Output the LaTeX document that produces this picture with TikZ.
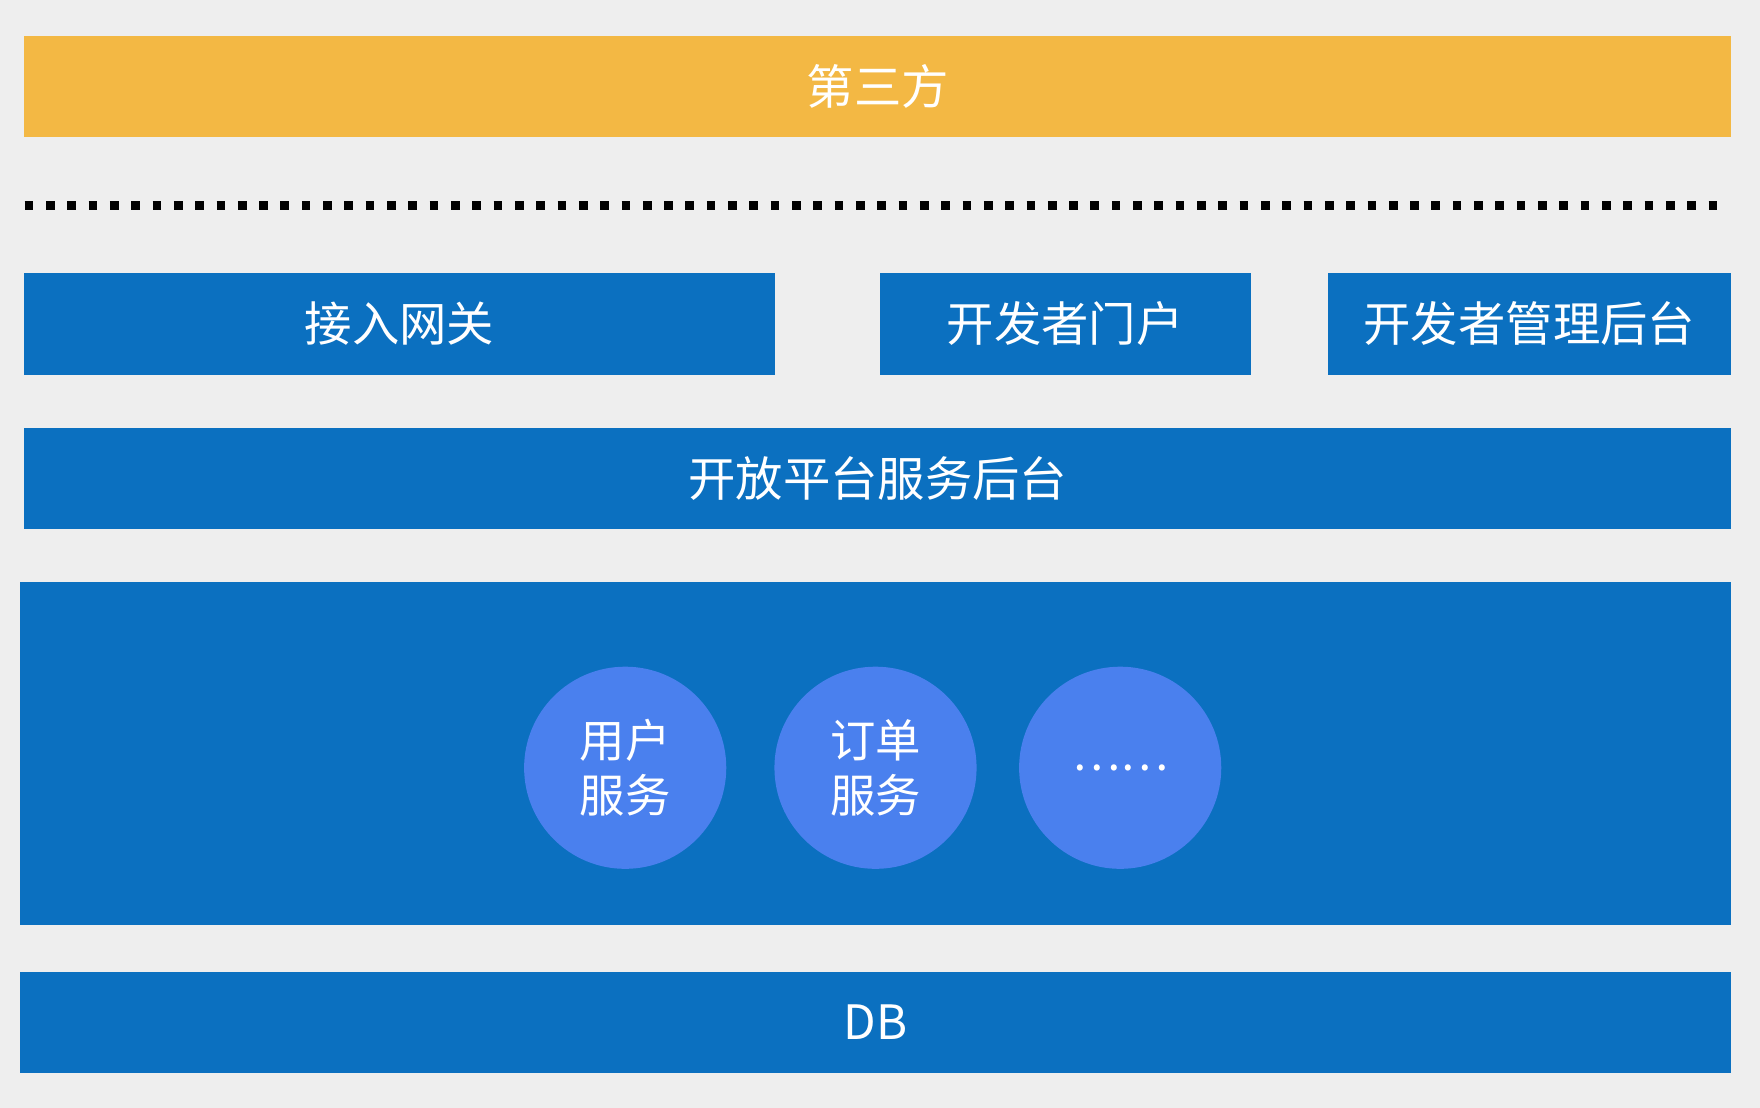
\documentclass[tikz,border=0pt]{standalone}
\usepackage{fontspec}
\setmainfont{Noto Sans CJK SC}
\definecolor{barblue}{RGB}{11,112,192}
\definecolor{baryellow}{RGB}{243,184,68}
\definecolor{svcblue}{RGB}{74,128,238}
\definecolor{bggray}{RGB}{238,238,238}
\tikzset{
  blockbox/.style={fill=barblue, text=white, inner sep=0pt, font=\fontsize{12}{14}\selectfont},
  svccircle/.style={circle, fill=svcblue, text=white, minimum size=1.8cm, inner sep=0pt, align=center, font=\fontsize{11.5}{14}\selectfont}
}
\begin{document}
\begin{tikzpicture}[x=0.01cm,y=-0.01cm]
\useasboundingbox[fill=bggray] (0,0) rectangle (1568,987);
% top layer
\node [blockbox, fill=baryellow, minimum width=15.2cm, minimum height=0.9cm] (third) at (782,77) {第三方};
\draw [line width=2.2pt, dash pattern=on 2.2pt off 3.2pt] (22,183) -- (1541,183);
% access layer
\node [blockbox, minimum width=6.68cm, minimum height=0.91cm] (gateway) at (356,288.5) {接入网关};
\node [blockbox, minimum width=3.30cm, minimum height=0.91cm] (portal) at (949,288.5) {开发者门户};
\node [blockbox, minimum width=3.59cm, minimum height=0.91cm] (admin) at (1362.5,288.5) {开发者管理后台};
\node [blockbox, minimum width=15.2cm, minimum height=0.9cm] (backend) at (782,426) {开放平台服务后台};
% services
\node [blockbox, minimum width=15.24cm, minimum height=3.05cm] (services) at (780,671.5) {};
\node [svccircle] (usersvc) at (557,684) {用户\\服务};
\node [svccircle] (ordersvc) at (780,684) {订单\\服务};
\node [svccircle] (moresvc) at (998,684) {……};
% storage
\node [blockbox, minimum width=15.24cm, minimum height=0.9cm] (db) at (780,911) {DB};
\end{tikzpicture}
\end{document}
